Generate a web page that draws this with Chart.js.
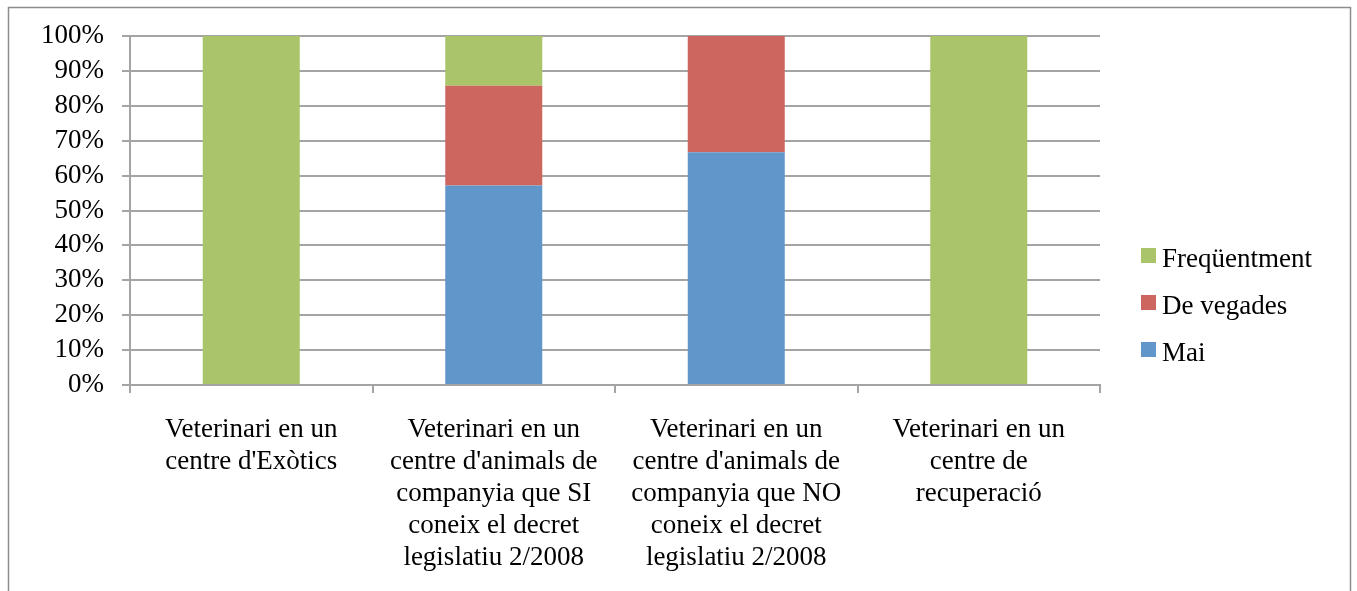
<!DOCTYPE html>
<html>
<head>
<meta charset="utf-8">
<script src="https://cdn.jsdelivr.net/npm/chart.js@4.4.1/dist/chart.umd.min.js"></script>
<style>
  html, body { margin: 0; padding: 0; background: #fff; }
  #wrap { width: 1357px; height: 591px; position: relative; }
</style>
</head>
<body>
<div id="wrap"><canvas id="c" width="1357" height="591"></canvas></div>
<script>
const categories = [
  ["Veterinari en un", "centre d'Exòtics"],
  ["Veterinari en un", "centre d'animals de", "companyia que SI", "coneix el decret", "legislatiu 2/2008"],
  ["Veterinari en un", "centre d'animals de", "companyia que NO", "coneix el decret", "legislatiu 2/2008"],
  ["Veterinari en un", "centre de", "recuperació"]
];
const seriesNames = ["Mai", "De vegades", "Freqüentment"];
const mai = [0, 57.14, 66.67, 0];
const deVegades = [0, 28.57, 33.33, 0];
const frequentment = [100, 14.29, 0, 100];
const yTicks = [0, 10, 20, 30, 40, 50, 60, 70, 80, 90, 100];

const FONT = "'Liberation Serif', 'Times New Roman', serif";
const FS = 27;

const frame = {
  id: 'frame',
  beforeDraw(chart) {
    const ctx = chart.ctx;
    ctx.save();
    ctx.fillStyle = '#fff';
    ctx.fillRect(0, 0, chart.width, chart.height);
    ctx.strokeStyle = '#8c8c8c';
    ctx.lineWidth = 1.5;
    ctx.strokeRect(8.5, 7.5, 1342, 700);
    ctx.restore();
  }
};

const customLegend = {
  id: 'customLegend',
  afterDraw(chart) {
    const ctx = chart.ctx;
    const ds = chart.data.datasets.slice().reverse();
    ctx.save();
    ctx.font = FS + 'px ' + FONT;
    ctx.textBaseline = 'alphabetic';
    ctx.textAlign = 'left';
    ds.forEach((d, i) => {
      const cy = 255.5 + i * 47;
      ctx.fillStyle = d.backgroundColor;
      ctx.fillRect(1141, cy - 7.5, 15, 15);
      ctx.fillStyle = '#000';
      ctx.fillText(d.label, 1162, cy + 11);
    });
    ctx.restore();
  }
};

new Chart(document.getElementById('c'), {
  type: 'bar',
  data: {
    labels: categories,
    datasets: [
      { label: seriesNames[0], data: mai, backgroundColor: '#6096CA' },
      { label: seriesNames[1], data: deVegades, backgroundColor: '#CE6660' },
      { label: seriesNames[2], data: frequentment, backgroundColor: '#A9C469' }
    ]
  },
  options: {
    responsive: false,
    animation: false,
    layout: { padding: { left: 8, top: 36, right: 257, bottom: 0 } },
    plugins: { legend: { display: false }, tooltip: { enabled: false } },
    datasets: { bar: { barPercentage: 0.4, categoryPercentage: 1.0, borderWidth: 0 } },
    scales: {
      x: {
        stacked: true,
        grid: { display: true, drawOnChartArea: false, offset: true, tickLength: 8, color: '#a4a4a4', lineWidth: 2 },
        border: { display: true, color: '#a4a4a4', width: 2 },
        ticks: { color: '#000', font: { family: FONT, size: FS, lineHeight: 32 / FS }, padding: 21, maxRotation: 0, autoSkip: false },
        afterFit(s) { s.height = 206; }
      },
      y: {
        stacked: true,
        min: 0, max: 100,
        afterBuildTicks(s) { s.ticks = yTicks.map(v => ({ value: v })); },
        grid: { color: '#a4a4a4', lineWidth: 2, tickLength: 8 },
        border: { display: true, color: '#a4a4a4', width: 2 },
        ticks: { color: '#000', font: { family: FONT, size: FS }, padding: 18, autoSkip: false, callback: v => v + '%' },
        afterFit(s) { s.width = 122; }
      }
    }
  },
  plugins: [frame, customLegend]
});
</script>
</body>
</html>
